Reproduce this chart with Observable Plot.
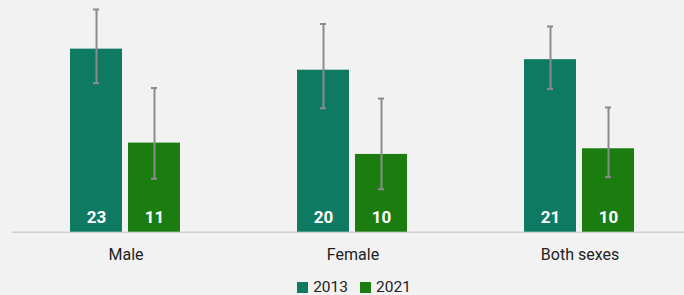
<!DOCTYPE html>
<html>
<head>
<meta charset="utf-8">
<script src="https://cdn.jsdelivr.net/npm/d3@7"></script>
<script src="https://cdn.jsdelivr.net/npm/@observablehq/plot@0.6"></script>
<style>
  html, body { margin: 0; padding: 0; background: #f2f2f2; }
  body { width: 684px; height: 295px; overflow: hidden; font-family: Roboto, "Noto Sans", sans-serif; }
  #legend { display: flex; justify-content: center; align-items: center; height: 20px; margin-top: 4px; font-size: 15.5px; color: #222; gap: 12px; padding-left: 24px; }
  #legend .item { display: flex; align-items: center; gap: 5px; }
  #legend .sw { width: 11px; height: 11px; display: inline-block; }
</style>
</head>
<body>
<div id="chart"></div>
<div id="legend"></div>
<script>
const groups = ["Male", "Female", "Both sexes"];
const years = ["2013", "2021"];
const colors = ["#0f7a62", "#1b7d10"];
const values2013 = [22.6, 20.0, 21.3];
const values2021 = [11.0, 9.6, 10.3];
const lower2013 = [18.4, 15.3, 17.7];
const upper2013 = [27.5, 25.7, 25.4];
const lower2021 = [6.6, 5.3, 6.8];
const upper2021 = [17.8, 16.5, 15.4];

const data = [];
groups.forEach((g, i) => {
  data.push({group: g, year: years[0], value: values2013[i], lo: lower2013[i], hi: upper2013[i]});
  data.push({group: g, year: years[1], value: values2021[i], lo: lower2021[i], hi: upper2021[i]});
});

const fmt = d3.format(".0f");

const plot = Plot.plot({
  width: 684,
  height: 273,
  marginTop: 0,
  marginBottom: 41,
  marginLeft: 0,
  marginRight: 0,
  style: {background: "#f2f2f2", fontFamily: "Roboto, sans-serif"},
  fx: {domain: groups, range: [11, 693.5], padding: 0, label: null},
  x: {domain: years, paddingInner: 0.1, paddingOuter: 1, axis: null},
  y: {domain: [0, 28], range: [231.7, 231.7 - 8.1 * 28], axis: null},
  color: {domain: years, range: colors},
  marks: [
    Plot.ruleY([0], {stroke: "#cfcfcf", strokeWidth: 1.5}),
    Plot.barY(data, {fx: "group", x: "year", y: "value", fill: "year"}),
    Plot.ruleX(data, {fx: "group", x: "year", y1: "lo", y2: "hi", stroke: "#8c8c8c", strokeWidth: 2}),
    Plot.tickY(data, {fx: "group", x: "year", y: "hi", stroke: "#8c8c8c", strokeWidth: 2, insetLeft: 23, insetRight: 23}),
    Plot.tickY(data, {fx: "group", x: "year", y: "lo", stroke: "#8c8c8c", strokeWidth: 2, insetLeft: 23, insetRight: 23}),
    Plot.text(data, {fx: "group", x: "year", y: 0, text: d => fmt(d.value), dy: -15, fill: "white", fontWeight: "bold", fontSize: 17}),
    Plot.axisFx({anchor: "bottom", tickSize: 0, tickPadding: 16, fontSize: 16, color: "#222", label: null})
  ]
});
document.getElementById("chart").appendChild(plot);

const legend = document.getElementById("legend");
years.forEach((y, i) => {
  const item = document.createElement("span");
  item.className = "item";
  const sw = document.createElement("span");
  sw.className = "sw";
  sw.style.background = colors[i];
  const t = document.createElement("span");
  t.textContent = y;
  item.appendChild(sw);
  item.appendChild(t);
  legend.appendChild(item);
});
</script>
</body>
</html>
